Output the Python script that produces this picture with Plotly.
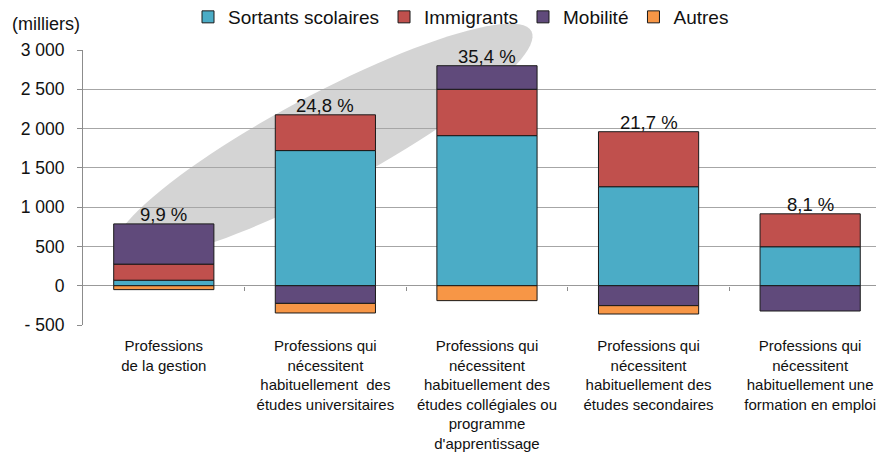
import numpy as np
import plotly.graph_objects as go

categories = [
    "Professions<br>de la gestion",
    "Professions qui<br>nécessitent<br>habituellement  des<br>études universitaires",
    "Professions qui<br>nécessitent<br>habituellement des<br>études collégiales ou<br>programme<br>d'apprentissage",
    "Professions qui<br>nécessitent<br>habituellement des<br>études secondaires",
    "Professions qui<br>nécessitent<br>habituellement une<br>formation en emploi",
]
sortants = [70, 1720, 1910, 1260, 496]
immigrants = [205, 455, 590, 700, 419]
mobilite = [512, -225, 300, -254, -322]
autres = [-50, -122, -190, -106, None]
shares = ["9,9 %", "24,8 %", "35,4 %", "21,7 %", "8,1 %"]
series_names = ["Sortants scolaires", "Immigrants", "Mobilité", "Autres"]
series_colors = ["#4BACC6", "#C0504D", "#604A7B", "#F79646"]
ytick_vals = [-500, 0, 500, 1000, 1500, 2000, 2500, 3000]
ytick_text = ["- 500", "0", "500", "1 000", "1 500", "2 000", "2 500", "3 000"]

# page has an 8px body margin; work in reference-pixel coords and shift
OFF = 8
W, H = 884 - OFF, 458 - OFF
L, R, T, B = 83 - OFF, 0, 50 - OFF, 133
PW, PH = W - L - R, H - T - B
FONT = "Liberation Sans, Arial, sans-serif"
TXT = "#111111"


def ref_to_paper(px, py):
    return (px - 83) / PW, (325 - py) / PH


xs = list(range(len(categories)))
fig = go.Figure()
for name, vals, col in zip(series_names, [sortants, immigrants, mobilite, autres], series_colors):
    fig.add_trace(go.Bar(
        x=xs, y=vals, name=name, width=0.62,
        marker=dict(color=col, line=dict(color="#1a1a1a", width=1)),
    ))
# carrier for the zero-line category tick marks
fig.add_trace(go.Scatter(x=[None], y=[None], xaxis="x2", showlegend=False, hoverinfo="skip"))

for i, lab in enumerate(shares):
    top = sum(v for v in (sortants[i], immigrants[i], mobilite[i], autres[i]) if v is not None and v > 0)
    fig.add_annotation(x=i, y=top, text=lab, showarrow=False, yanchor="bottom",
                       yshift=-3, font=dict(size=18.5, color=TXT, family=FONT))

# highlight ellipse (reference-pixel geometry -> paper coords)
cx, cy, a, b, ang = 323, 142, 236, 47, np.deg2rad(-28)
t = np.linspace(0, 2 * np.pi, 100)
px = cx + a * np.cos(t) * np.cos(ang) - b * np.sin(t) * np.sin(ang)
py = cy + a * np.cos(t) * np.sin(ang) + b * np.sin(t) * np.cos(ang)
xp, yp = ref_to_paper(px, py)
path = "M " + " L ".join(f"{x:.4f},{y:.4f}" for x, y in zip(xp, yp)) + " Z"
fig.add_shape(type="path", path=path, xref="paper", yref="paper", layer="below",
              fillcolor="#D4D4D4", line=dict(width=0))

mx, my = ref_to_paper(10, 24)
fig.add_annotation(text="(milliers)", xref="paper", yref="paper", x=mx, y=my,
                   xanchor="left", yanchor="middle", showarrow=False,
                   font=dict(size=18, color=TXT, family=FONT))

xrange = [-0.5, 4.457]
fig.update_layout(
    width=W, height=H,
    margin=dict(l=L, r=R, t=T, b=B, autoexpand=False),
    paper_bgcolor="white", plot_bgcolor="white",
    barmode="relative",
    font=dict(family=FONT, color=TXT),
    showlegend=True,
    legend=dict(orientation="h", xref="container", yref="container", x=180 / W, y=1 - 9 / H,
                xanchor="left", yanchor="middle", font=dict(size=19, family=FONT, color=TXT),
                bgcolor="rgba(0,0,0,0)", traceorder="normal"),
    xaxis=dict(range=xrange, tickvals=xs, ticktext=categories, ticks="", showgrid=False,
               zeroline=False, showline=False, tickfont=dict(size=15, family=FONT, color=TXT),
               ticklabelstandoff=10),
    xaxis2=dict(range=xrange, overlaying="x", anchor="free", position=500 / 3500, side="bottom",
                tickvals=[0.5, 1.5, 2.5, 3.5], ticks="outside", ticklen=4, tickcolor="#8c8c8c",
                showticklabels=False, showgrid=False, zeroline=False, showline=False),
    yaxis=dict(range=[-500, 3000], tickvals=ytick_vals, ticktext=ytick_text, showgrid=True,
               gridcolor="#a6a6a6", gridwidth=1, zeroline=True, zerolinecolor="#999999", zerolinewidth=1,
               showline=True, linecolor="#8c8c8c", linewidth=1, ticks="outside", ticklen=5,
               tickcolor="#8c8c8c", tickfont=dict(size=17.5, family=FONT, color=TXT),
               ticklabelstandoff=9),
)
fig.write_html("out.html")
